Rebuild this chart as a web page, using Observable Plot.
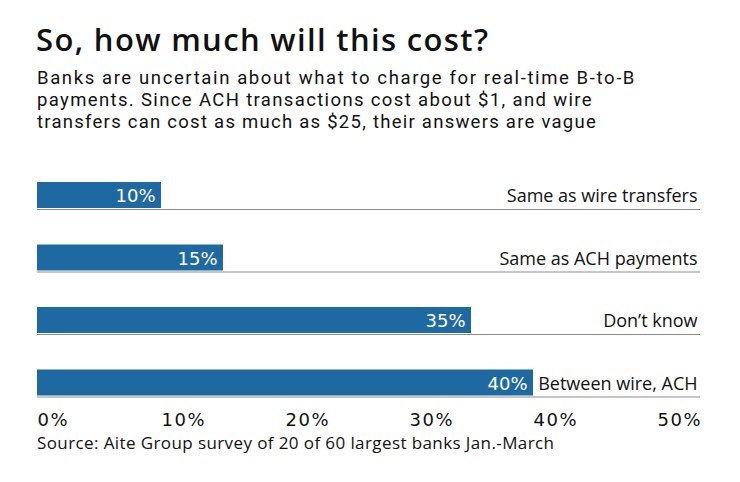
<!DOCTYPE html>
<html>
<head>
<meta charset="utf-8">
<script src="https://cdn.jsdelivr.net/npm/d3@7"></script>
<script src="https://cdn.jsdelivr.net/npm/@observablehq/plot@0.6"></script>
<style>
  html, body { margin: 0; padding: 0; background: #fff; }
  body { width: 740px; height: 482px; position: relative; overflow: hidden; font-family: "Open Sans", sans-serif; color: #111; }
  #title { position: absolute; left: 36px; top: 19px; font-size: 31px; font-weight: 600; line-height: 40px; letter-spacing: 1.35px; white-space: nowrap; }
  #subtitle { position: absolute; left: 37px; top: 67px; font-family: Roboto, sans-serif; font-size: 18.5px; white-space: nowrap; }
  #subtitle div { height: 22px; line-height: 22px; }
  #subtitle span { display: inline-block; }
  #chart { position: absolute; left: 0; top: 160px; }
  #source { position: absolute; left: 37px; top: 432px; font-size: 17px; line-height: 22px; letter-spacing: 0.4px; white-space: nowrap; }
  g[aria-label="category label"] text { letter-spacing: 0.6px; }
  g[aria-label="x-axis tick label"] text { letter-spacing: 1.5px; }
</style>
</head>
<body>
<div id="title">So, how much will this cost?</div>
<div id="subtitle"><div><span>Banks are uncertain about what to charge for real-time B-to-B</span></div><div><span>payments. Since ACH transactions cost about $1, and wire</span></div><div><span>transfers can cost as much as $25, their answers are vague</span></div></div>
<div id="chart"></div>
<div id="source">Source: Aite Group survey of 20 of 60 largest banks Jan.-March</div>
<script>
const categories = ["Same as wire transfers", "Same as ACH payments", "Don’t know", "Between wire, ACH"];
const values = [10, 15, 35, 40];
const xTicks = [0, 10, 20, 30, 40, 50];

// widths (px) of the three subtitle lines in the reference, used to fit letter-spacing
const subtitleLineWidths = [599, 556, 560];

const data = categories.map((c, i) => ({category: c, value: values[i]}));

const chart = Plot.plot({
  width: 740,
  height: 280,
  marginLeft: 37,
  marginRight: 40,
  marginTop: 0,
  marginBottom: 44,
  style: {fontFamily: "Open Sans, sans-serif", background: "transparent", overflow: "visible"},
  x: {domain: [0, 50], range: [37, 657]},
  y: {domain: categories, range: [22, 235.5], paddingInner: 0.584, paddingOuter: 0, round: false, axis: null},
  marks: [
    Plot.ruleY(data, {y: "category", dy: 14, stroke: "#8c8c8c", strokeWidth: 1}),
    Plot.barX(data, {x: "value", y: "category", fill: "#1f69a3"}),
    Plot.text(data, {x: "value", y: "category", text: d => d.value + "%", textAnchor: "end", dx: -6, dy: 1, fill: "#fff", fontSize: 18, fontFamily: "DejaVu Sans, sans-serif", ariaLabel: "value label"}),
    Plot.text(data, {y: "category", text: "category", frameAnchor: "right", textAnchor: "end", dx: -3, dy: 1, fill: "#111", fontSize: 18, ariaLabel: "category label"}),
    Plot.axisX({ticks: xTicks, tickFormat: d => d + "%", tickSize: 0, tickPadding: 17, textAnchor: "start", fontSize: 18, fontFamily: "DejaVu Sans, sans-serif", fill: "#111", label: null})
  ]
});
document.getElementById("chart").appendChild(chart);

// fit subtitle lines to the reference widths through letter-spacing
document.querySelectorAll("#subtitle span").forEach((el, i) => {
  el.style.letterSpacing = "0px";
  const w = el.getBoundingClientRect().width;
  const n = el.textContent.length;
  el.style.letterSpacing = ((subtitleLineWidths[i] - w) / n) + "px";
});
</script>
</body>
</html>
